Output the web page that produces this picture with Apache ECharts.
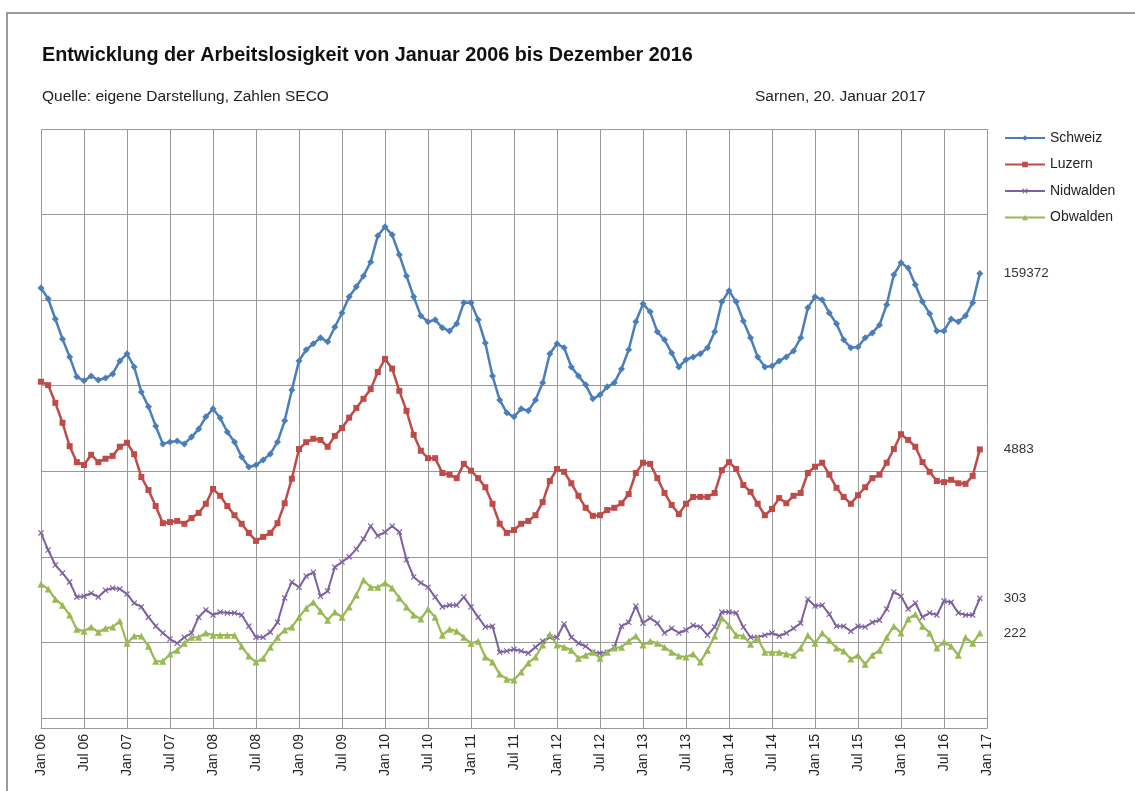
<!DOCTYPE html>
<html>
<head>
<meta charset="utf-8">
<script src="https://cdn.jsdelivr.net/npm/echarts@6/dist/echarts.min.js"></script>
<style>
html,body{margin:0;padding:0;background:#fff;}
#chart{width:1135px;height:791px;}
</style>
</head>
<body>
<div id="chart"></div>
<script>
// ---- Data (monthly, Jan 2006 – Dec 2016) ----
const monthNames = ['Jan','Feb','Mar','Apr','May','Jun','Jul','Aug','Sep','Oct','Nov','Dec'];
const startYear = 6, endYear = 16;
const categories = [];
for (let y = startYear; y <= endYear; y++) {
  for (let m = 0; m < 12; m++) categories.push(monthNames[m] + ' ' + String(y).padStart(2,'0'));
}
categories.push('Jan 17');

const schweiz = [
154300,150500,143400,136400,130100,123100,121700,123400,122000,122700,124100,128700,
131200,126600,117800,112600,105900,99600,100300,100600,99600,102000,104800,109100,
111900,108700,103800,100300,95000,91500,92200,94000,96100,100300,107700,118500,
128700,132600,134700,136800,135400,140600,145500,151200,154700,158500,163400,172600,
175700,172900,165900,158500,151200,144500,142400,143100,140300,139200,141700,149100,
149100,143100,135000,123400,115000,110500,109100,111900,111200,115000,121000,131200,
134700,133300,126600,123400,120300,115400,116800,119600,121000,125900,132600,142400,
148700,145900,138900,136100,131500,126600,129100,130100,131200,133300,138900,149400,
153300,149400,142700,136800,130100,126600,126900,128700,130100,132200,136800,147300,
151200,150100,145500,141700,136100,133300,133600,136800,138500,141300,148400,158900,
163100,161300,155400,149400,145200,139200,139200,143400,142400,144500,149100,159372];

const luzern = [
6070,6010,5700,5350,4940,4660,4610,4790,4660,4720,4770,4930,
5000,4800,4400,4170,3890,3590,3610,3630,3580,3680,3770,3930,
4190,4070,3890,3730,3580,3420,3280,3350,3420,3590,3940,4370,
4890,5010,5070,5050,4930,5120,5260,5440,5610,5770,5940,6240,
6470,6300,5910,5560,5140,4860,4730,4730,4470,4440,4380,4630,
4510,4380,4220,3930,3580,3420,3470,3580,3630,3730,3960,4330,
4540,4490,4290,4070,3860,3720,3730,3820,3860,3940,4100,4470,
4650,4630,4380,4120,3910,3750,3930,4050,4050,4050,4120,4520,
4660,4540,4260,4140,3930,3730,3840,4030,3940,4070,4120,4470,
4580,4650,4440,4210,4050,3930,4080,4220,4380,4440,4650,4890,
5150,5050,4930,4660,4490,4330,4310,4350,4290,4280,4420,4883];

const nidwalden = [
456,416,381,362,341,306,308,315,306,322,327,325,
313,292,283,259,238,222,208,198,212,222,259,276,
264,271,269,269,264,238,212,212,224,247,304,341,
329,355,364,308,320,376,388,400,418,442,472,449,
458,472,458,393,353,339,329,306,283,287,287,306,
283,259,236,238,177,180,184,180,175,189,203,212,
212,243,212,198,191,177,175,177,189,238,247,285,
245,257,245,222,233,222,229,240,236,217,236,271,
271,269,236,212,212,217,222,215,222,233,245,301,
285,287,266,238,238,226,238,236,247,252,278,318,
308,278,292,259,269,264,297,294,269,264,264,303];

const obwalden = [
336,325,301,287,264,231,226,236,224,233,236,250,
198,215,215,191,156,156,173,182,198,212,212,222,
217,217,217,217,191,168,154,163,189,212,229,236,
259,280,294,273,252,271,259,283,311,346,329,329,
339,327,304,283,264,255,278,259,217,231,226,212,
198,203,166,154,126,114,112,131,152,166,194,219,
194,189,182,163,170,177,163,177,187,189,203,215,
194,203,198,189,177,168,166,173,154,182,215,257,
240,217,215,196,210,177,177,177,173,170,187,217,
198,222,205,187,180,161,170,149,170,182,212,238,
222,255,266,238,222,187,201,191,170,212,198,222];

const seriesNames = ['Schweiz','Luzern','Nidwalden','Obwalden'];
const colors = ['#4A7EBB','#BE4B48','#7D60A0','#98B954'];

const chart = echarts.init(document.getElementById('chart'));
const xMark = 'path://M0,1.4L1.4,0L5,3.6L8.6,0L10,1.4L6.4,5L10,8.6L8.6,10L5,6.4L1.4,10L0,8.6L3.6,5Z';
const font = 'Liberation Sans, Arial, sans-serif';

function endLbl(v){
  return {show:true, formatter:String(v), distance:24, fontFamily:font, fontSize:13.5, color:'#333'};
}

chart.setOption({
  animation:false,
  backgroundColor:'#fff',
  graphic:[{type:'rect', shape:{x:7,y:13,width:1200,height:900}, style:{fill:'none', stroke:'#9a9a9a', lineWidth:2}, silent:true, z:-10}],
  title:[
    {text:'Entwicklung der Arbeitslosigkeit von Januar 2006 bis Dezember 2016', left:37, top:41,
      textStyle:{fontFamily:font, fontSize:19.8, fontWeight:'bold', color:'#111'}},
    {text:'Quelle: eigene Darstellung, Zahlen SECO', left:37, top:84,
      textStyle:{fontFamily:font, fontSize:15.5, fontWeight:'normal', color:'#222'}},
    {text:'Sarnen, 20. Januar 2017', left:750, top:84,
      textStyle:{fontFamily:font, fontSize:15.5, fontWeight:'normal', color:'#222'}}
  ],
  legend:{orient:'vertical', left:999, top:126, itemGap:12.5, itemWidth:40, itemHeight:7,
    textStyle:{fontFamily:font, fontSize:14, color:'#222'}, data:seriesNames},
  grid:{left:41, right:148, top:129, bottom:63, containLabel:false},
  xAxis:{type:'category', data:categories, boundaryGap:false,
    axisLine:{show:true, lineStyle:{color:'#999', width:1}},
    axisTick:{show:false},
    axisLabel:{interval:5, rotate:90, margin:6, fontFamily:font, fontSize:14, color:'#222'},
    splitLine:{show:true, interval:5, lineStyle:{color:'#999', width:1}}
  },
  yAxis:[
    {type:'value', min:0, max:210000, interval:30000, axisLabel:{show:false}, axisLine:{show:false}, axisTick:{show:false},
      splitLine:{show:true, lineStyle:{color:'#999', width:1}}},
    {type:'value', min:0, max:10500, show:false},
    {type:'value', min:0, max:1400, show:false},
    {type:'value', min:0, max:1400, show:false}
  ],
  series:[
    {name:'Schweiz', type:'line', yAxisIndex:0, data:schweiz, color:colors[0], showAllSymbol:true,
      symbol:'diamond', symbolSize:7, lineStyle:{width:2.5}, endLabel:endLbl(schweiz[schweiz.length-1]),
      markLine:{silent:true, symbol:'none', label:{show:false}, lineStyle:{color:'#999', width:1, type:'solid'},
        data:[{yAxis:3500}]}},
    {name:'Luzern', type:'line', yAxisIndex:1, data:luzern, color:colors[1], showAllSymbol:true,
      symbol:'rect', symbolSize:6, lineStyle:{width:2.5}, endLabel:endLbl(luzern[luzern.length-1])},
    {name:'Nidwalden', type:'line', yAxisIndex:2, data:nidwalden, color:colors[2], showAllSymbol:true,
      symbol:xMark, symbolSize:6, lineStyle:{width:2}, endLabel:endLbl(nidwalden[nidwalden.length-1])},
    {name:'Obwalden', type:'line', yAxisIndex:3, data:obwalden, color:colors[3], showAllSymbol:true,
      symbol:'triangle', symbolSize:7, lineStyle:{width:2.2}, endLabel:endLbl(obwalden[obwalden.length-1])}
  ]
});
</script>
</body>
</html>
